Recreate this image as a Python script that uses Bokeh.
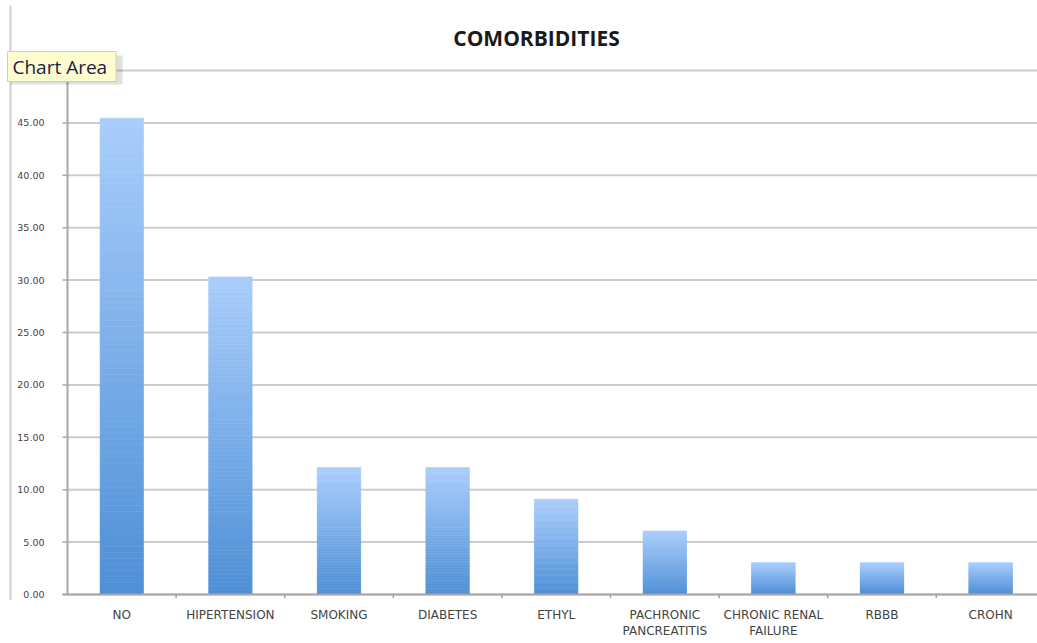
from bokeh.plotting import figure
from bokeh.models import FixedTicker, Label, Range1d, BoxAnnotation
from bokeh.core.properties import value
from bokeh.embed import file_html
from bokeh.resources import INLINE

categories = ["NO", "HIPERTENSION", "SMOKING", "DIABETES", "ETHYL",
              "PACHRONIC\nPANCREATITIS", "CHRONIC RENAL\nFAILURE", "RBBB", "CROHN"]
values = [45.45, 30.30, 12.12, 12.12, 9.09, 6.06, 3.03, 3.03, 3.03]
y_ticks = [0, 5, 10, 15, 20, 25, 30, 35, 40, 45, 50]
y_tick_labels = ["%.2f" % t for t in y_ticks]

W, H = 1037, 643
PLOT_LEFT, PLOT_TOP, PLOT_BOTTOM = 67, 70, 594
FRAME_BOTTOM = 600
Y_MAX = 50
px_per_cat = 108.6
px_per_unit = (PLOT_BOTTOM - PLOT_TOP) / Y_MAX

x_start = -PLOT_LEFT / px_per_cat
x_end = (W - PLOT_LEFT) / px_per_cat
y_top = Y_MAX + PLOT_TOP / px_per_unit
y_bottom = -(FRAME_BOTTOM - PLOT_BOTTOM) / px_per_unit

top_rgb = (0xA9, 0xCD, 0xFB)
bot_rgb = (0x4E, 0x8F, 0xD6)

p = figure(width=W, height=H, output_backend="svg", toolbar_location=None,
           x_range=Range1d(x_start, x_end), y_range=Range1d(y_bottom, y_top),
           y_axis_location=None,
           min_border_left=0, min_border_right=0, min_border_top=0,
           min_border_bottom=H - FRAME_BOTTOM)
p.outline_line_color = None
p.background_fill_color = "white"
p.border_fill_color = "white"
p.xgrid.grid_line_color = None
p.ygrid.grid_line_color = None

# left chart-area border line
p.add_layout(BoxAnnotation(left=9, right=11, bottom=0, top=FRAME_BOTTOM - 5,
                           left_units="screen", right_units="screen",
                           bottom_units="screen", top_units="screen",
                           fill_color="#cfcfcf", fill_alpha=1, line_color=None))

# horizontal gridlines
p.segment(x0=[0] * len(y_ticks), x1=[x_end] * len(y_ticks), y0=y_ticks, y1=y_ticks,
          line_color="#cccccc", line_width=2)

# gradient bars built from slices of each value
N = 80
xs, tops, bottoms, colors = [], [], [], []
for i, v in enumerate(values):
    for k in range(N):
        f = k / (N - 1)
        r = round(bot_rgb[0] + (top_rgb[0] - bot_rgb[0]) * f)
        g = round(bot_rgb[1] + (top_rgb[1] - bot_rgb[1]) * f)
        b = round(bot_rgb[2] + (top_rgb[2] - bot_rgb[2]) * f)
        xs.append(i + 0.5)
        bottoms.append(v * k / N)
        tops.append(v * (k + 1) / N)
        colors.append("#%02x%02x%02x" % (r, g, b))
p.vbar(x=xs, top=tops, bottom=bottoms, width=0.4, fill_color=colors, line_color=colors, line_width=0.6)

# y axis: line, ticks, labels
tick_len = 5 / px_per_cat
p.segment(x0=[0], x1=[0], y0=[0], y1=[Y_MAX], line_color="#a8a8a8", line_width=2)
p.segment(x0=[-tick_len] * len(y_ticks), x1=[0] * len(y_ticks), y0=y_ticks, y1=y_ticks,
          line_color="#a8a8a8", line_width=1.5)
p.segment(x0=[-tick_len], x1=[x_end], y0=[0], y1=[0], line_color="#a8a8a8", line_width=2)
p.text(x=[0] * len(y_ticks), y=y_ticks, text=y_tick_labels, x_offset=-23,
       text_align="right", text_baseline="middle", text_font=value("DejaVu Sans"),
       text_font_size=value("9.5px"), text_color="#444444")

# category boundary ticks below the x axis line
bounds = list(range(1, len(categories)))
xtick_len = 3.5 / px_per_unit
p.segment(x0=bounds, x1=bounds, y0=[0] * len(bounds), y1=[-xtick_len] * len(bounds),
          line_color="#a0a0a0", line_width=1.5)

# x axis (real axis for category labels)
centers = [i + 0.5 for i in range(len(categories))]
p.xaxis.ticker = FixedTicker(ticks=centers)
p.xaxis.major_label_overrides = {c: lab for c, lab in zip(centers, categories)}
p.xaxis.major_tick_line_color = None
p.xaxis.minor_tick_line_color = None
p.xaxis.axis_line_color = None
p.xaxis.major_label_text_font = "DejaVu Sans"
p.xaxis.major_label_text_font_size = "12px"
p.xaxis.major_label_text_color = "#444444"
p.xaxis.major_label_standoff = 1

# title
p.add_layout(Label(x=536, y=FRAME_BOTTOM - 37, x_units="screen", y_units="screen",
                   text="COMORBIDITIES", text_align="center", text_baseline="middle",
                   text_font="Open Sans", text_font_style="bold", text_font_size="21px",
                   text_color="#1a1a1a"))

# "Chart Area" tooltip with soft shadow
p.add_layout(BoxAnnotation(left=10, right=122, bottom=FRAME_BOTTOM - 84, top=FRAME_BOTTOM - 55,
                           left_units="screen", right_units="screen",
                           bottom_units="screen", top_units="screen",
                           fill_color="#000000", fill_alpha=0.12, line_color=None))
p.add_layout(Label(x=7, y=FRAME_BOTTOM - 66, x_units="screen", y_units="screen",
                   text="Chart Area", text_align="left", text_baseline="middle",
                   text_font="Open Sans", text_font_size="19px",
                   text_color="#1c1c4c", background_fill_color="#fdfdcf",
                   border_line_color="#d0d0a8",
                   padding=dict(left=5, right=9, top=2, bottom=2)))

open("out.html", "w").write(file_html(p, INLINE))
